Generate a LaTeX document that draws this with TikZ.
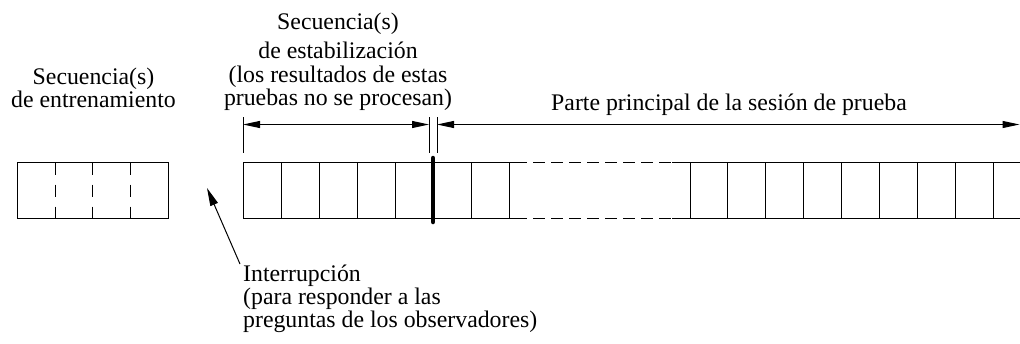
\documentclass[tikz,border=0pt]{standalone}
\usepackage{fontspec}
\setmainfont{Liberation Serif}
\usetikzlibrary{arrows.meta}
\begin{document}
\begin{tikzpicture}[x=1pt,y=-1pt,
  txt/.style={inner sep=0pt,anchor=base,font=\fontsize{23.8}{23}\selectfont},
  txtl/.style={txt,anchor=base west},
  ln/.style={line width=1pt,line cap=butt},
  gapdash/.style={ln,dash pattern=on 12pt off 6pt,dash phase=12pt},
  celldash/.style={ln,dash pattern=on 12pt off 10pt},
  tip/.style={Triangle[length=17pt,width=7pt]},
  dimarrow/.style={ln,{Triangle[length=17pt,width=7pt]}-{Triangle[length=17pt,width=7pt]}},
  pointer/.style={ln,-{Triangle[length=18pt,width=8pt]}},
  bar/.style={line width=4.5pt,line cap=round}]
\useasboundingbox (0,0) rectangle (1020,343);

% texts
\node[txt] (ent1) at (93.5,84) {Secuencia(s)};
\node[txt] (ent2) at (93.5,107) {de entrenamiento};
\node[txt] (est1) at (338,29) {Secuencia(s)};
\node[txt] (est2) at (338,58) {de estabilización};
\node[txt] (est3) at (338,82) {(los resultados de estas};
\node[txt] (est4) at (338,105) {pruebas no se procesan)};
\node[txt] (ppal) at (729,110) {Parte principal de la sesión de prueba};
\node[txtl] (int1) at (243,281) {Interrupción};
\node[txtl] (int2) at (243,304) {(para responder a las};
\node[txtl] (int3) at (243,327) {preguntas de los observadores)};

% training box
\draw[ln] (17,162.5) rectangle (168,218);
\foreach \x in {55,92.7,130.5} \draw[celldash] (\x,162.5) -- (\x,218);

% main strip
\draw[ln] (243,162.5) -- (527,162.5);
\draw[gapdash] (527,162.5) -- (672,162.5);
\draw[ln] (672,162.5) -- (1020,162.5);
\draw[ln] (243,218) -- (527,218);
\draw[gapdash] (527,218) -- (672,218);
\draw[ln] (672,218) -- (1020,218);
\foreach \x in {243,281,319,357,395,471,509,690,727.9,765.8,803.7,841.6,879.5,917.4,955.3,993.2}
  \draw[ln] (\x,162.5) -- (\x,218);
\draw[bar] (433,158) -- (433,222);

% dimension ticks and arrows
\draw[ln] (243,117) -- (243,153);
\draw[ln] (429,117) -- (429,153);
\draw[ln] (437,117) -- (437,153);
\coordinate (d1a) at (243,124.5);
\coordinate (d1b) at (429,124.5);
\coordinate (d2a) at (437,124.5);
\coordinate (d2b) at (1019.5,124.5);
\draw[dimarrow] (d1a) -- (d1b);
\draw[dimarrow] (d2a) -- (d2b);

% interruption pointer
\coordinate (itail) at (240,264);
\coordinate (itip) at (207,188);
\draw[pointer] (itail) -- (itip);
\end{tikzpicture}
\end{document}
